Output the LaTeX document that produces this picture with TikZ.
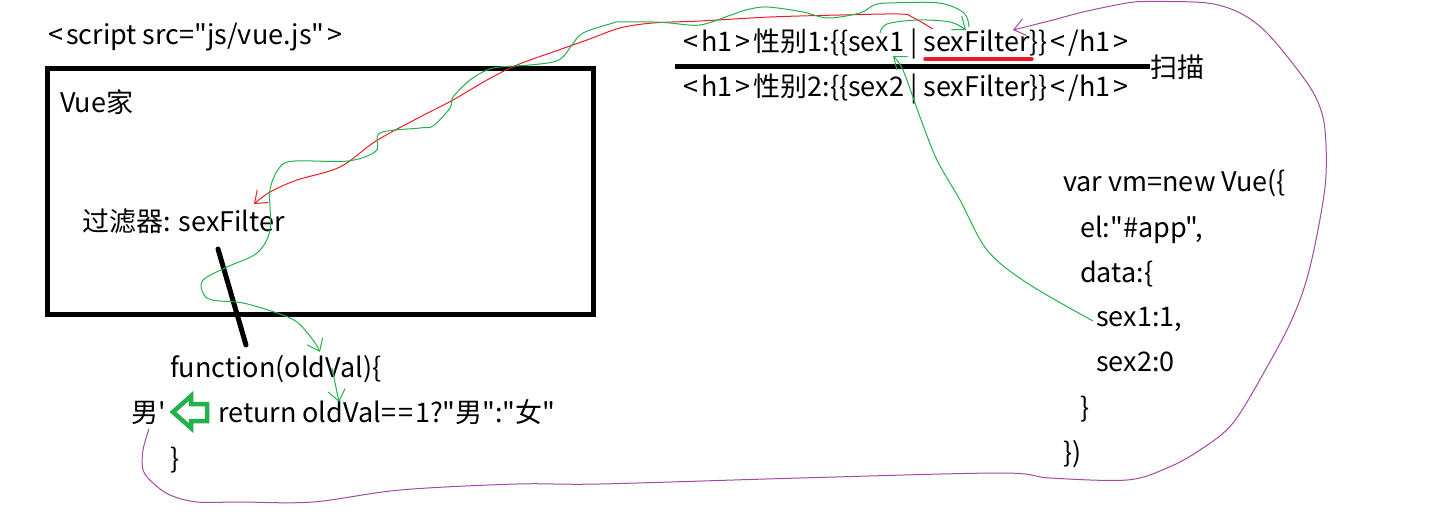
\documentclass[tikz,border=0pt]{standalone}
\usepackage{fontspec}
\setmainfont{Noto Sans CJK SC}[Ligatures=TeXOff]
\usetikzlibrary{arrows.meta}
\definecolor{paintred}{HTML}{ED1C24}
\definecolor{paintgreen}{HTML}{22B14C}
\definecolor{paintpurple}{HTML}{A349A4}
\newcommand{\lt}{\kern3pt<\kern3pt}
\newcommand{\gt}{\kern3pt>\kern3pt}

\begin{document}
\begin{tikzpicture}[x=1pt, y=-1pt, font=\fontsize{27}{32}\selectfont]
            % 定义样式
            \tikzstyle{code}=[anchor=base west, inner sep=0pt]
            \tikzstyle{pen}=[line width=1pt, line join=round, smooth, tension=0.55]
            \tikzstyle{tip}=[-{Straight Barb[length=11pt, width=17pt, line width=1pt]}]
            \tikzstyle{thickline}=[line width=5pt, line cap=round]
            \useasboundingbox (0,0) rectangle (1444,524);

            % 左边: Vue家 和 过滤器
            \node[code] (script) at (45,45) {\lt script src="js/vue.js"\gt};
            \draw[line width=5pt] (47,69) rectangle (593,314);
            \node[code] (vuehome) at (60,113) {Vue家};
            \node[code] (filter) at (82,232) {过滤器: sexFilter};
            \node[code] (func) at (170,377) {function(oldVal)\{};
            \node[code] (male) at (131,422) {男'};
            \node[code] (ret) at (218,422) {return oldVal=\kern2pt=\kern2pt1?"男":"女"};
            \node[code] (close) at (170,468) {\}};
            \draw[thickline] (218,249) -- (246,345);
            % 空心的绿色箭头
            \draw[paintgreen, line width=4.5pt, line join=miter]
                (173,412) -- (191,396) -- (191,404) -- (207,404) -- (207,421)
                -- (191,421) -- (191,428) -- cycle;

            % 右边: 模板
            \node[code] (hone) at (680,52) {\lt h1\gt 性别1:\{\{sex1 | sexFilter\}\}\lt /h1\gt};
            \node[code] (htwo) at (680,97) {\lt h1\gt 性别2:\{\{sex2 | sexFilter\}\}\lt /h1\gt};
            \node[code, anchor=west] (scan) at (1150,67) {扫描};
            \coordinate (scanstart) at (675,67);
            \draw[line width=5pt] (scanstart) -- (scan.west);
            \draw[paintred, line width=3.5pt, line cap=round] (925,59) -- (1032,59);

            % 右边: Vue 实例
            \node[code] (vm) at (1063,192) {var vm=new Vue(\{};
            \node[code] (el) at (1080,237) {el:"\#app",};
            \node[code] (data) at (1080,282) {data:\{};
            \node[code] (sexone) at (1096,326) {sex1:1,};
            \node[code] (sextwo) at (1096,371) {sex2:0};
            \node[code] (dataend) at (1080,417) {\}};
            \node[code] (vmend) at (1063,462) {\})};

            % 手画的线
            \coordinate (redstart) at (933,29);
            \coordinate (redend) at (254,204);
            \coordinate (sexoneA) at (1093,321);
            \coordinate (sexoneB) at (893,56);
            \coordinate (sexC) at (880,33);
            \coordinate (filterA) at (966,30);
            \coordinate (filterB) at (969,27);
            \coordinate (oldval) at (320,352);
            \coordinate (retA) at (332,368);
            \coordinate (retB) at (339,402);
            \coordinate (maleA) at (149,429);
            \coordinate (purpleend) at (1013,30);

            % 红线: sexFilter -> 过滤器
            \draw[pen, tip, paintred] plot coordinates {(redstart) (912,17) (900,14) (840,15)
                (770,17) (700,21) (653,23) (620,28) (587,40) (553,52) (517,65) (487,80)
                (453,100) (420,117) (376,141) (340,167) (297,180) (270,192) (redend)};

            % 绿线: sex1 -> sexFilter -> function
            \draw[pen, tip, paintgreen] plot coordinates {(sexoneA) (1027,283) (987,250) (960,200)
                (937,160) (920,117) (903,70) (sexoneB)};
            \draw[pen, tip, paintgreen] plot coordinates {(sexC) (887,24) (917,20) (950,22) (filterA)};
            \draw[pen, tip, paintgreen] plot coordinates {(filterB) (964,13) (939,3) (889,3)
                (874,5) (860,13) (828,18) (803,12) (767,7) (746,10) (731,15) (700,25)
                (670,23) (653,22) (620,22) (613,23) (583,33) (572,45) (563,57) (553,62)
                (530,65) (500,67) (487,70) (470,80) (453,97) (450,108) (433,126) (420,128)
                (380,133) (376,151) (348,161) (295,161) (280,167) (270,190) (270,230)
                (257,253) (227,267) (203,280) (203,293) (212,300) (243,303) (277,313)
                (297,322) (313,340) (oldval)};
            \draw[pen, tip, paintgreen] (retA) -- (retB);

            % 紫线: 男 -> 模板
            \draw[pen, tip, paintpurple] plot coordinates {(maleA) (143,450) (143,470) (153,483)
                (170,495) (197,502) (240,502) (313,502) (400,490) (517,484) (600,484)
                (800,478) (1000,473) (1050,478) (1127,480) (1167,468) (1200,450) (1233,423)
                (1267,367) (1293,317) (1310,267) (1325,187) (1325,130) (1317,100) (1300,73)
                (1267,33) (1240,13) (1207,3) (1150,1.5) (1127,3) (1083,12) (1053,20) (purpleend)};
\end{tikzpicture}
\end{document}
